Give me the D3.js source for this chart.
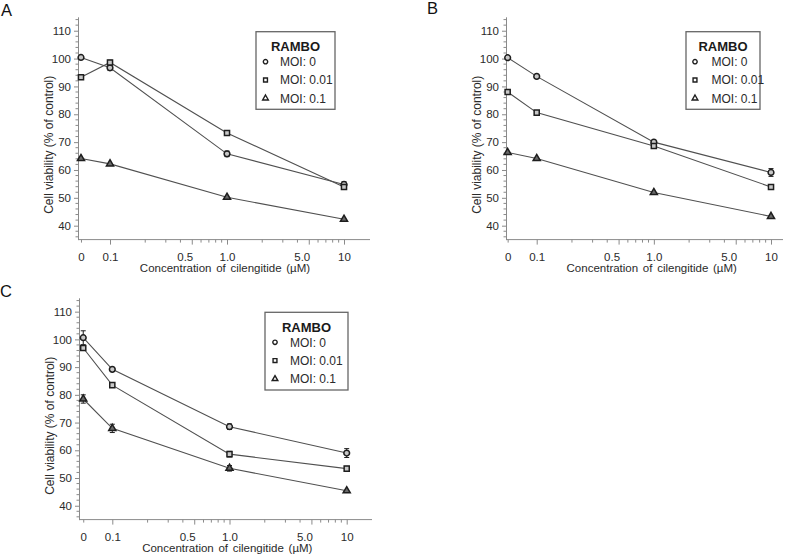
<!DOCTYPE html>
<html>
<head>
<meta charset="utf-8">
<script src="https://cdn.jsdelivr.net/npm/d3@7"></script>
<style>
  html, body { margin: 0; padding: 0; background: #fff; }
  svg { display: block; font-family: "Liberation Sans", Arial, sans-serif; }
</style>
</head>
<body>
<svg id="chart" width="800" height="560"></svg>
<script>
// ---------------- DATA ----------------
const concentrations = [0, 0.1, 1, 10];           // µM (0 drawn at the axis break)
const seriesNames = ["MOI: 0", "MOI: 0.01", "MOI: 0.1"];
const legendTitle = "RAMBO";
const xTickValues = [0, 0.1, 0.5, 1, 5, 10];
const xTickLabels = ["0", "0.1", "0.5", "1.0", "5.0", "10"];
const xMinorTicks = [0.2, 0.3, 0.4, 0.6, 0.7, 0.8, 0.9, 2, 3, 4, 6, 7, 8, 9];
const yTickValues = [40, 50, 60, 70, 80, 90, 100, 110];
const xTitle = "Concentration of cilengitide (µM)";
const yTitle = "Cell viability (% of control)";

// Panel A
const panelA_MOI0   = [100.4, 96.7, 65.8, 54.8];
const panelA_MOI001 = [93.3, 98.6, 73.3, 53.9];
const panelA_MOI01  = [64.1, 62.2, 50.2, 42.3];
const panelA_err0   = [0.5, 1.0, 1.0, 1.0];
const panelA_err001 = [0.5, 0.8, 0.6, 0.6];
const panelA_err01  = [0.4, 0.4, 0.6, 0.4];
// Panel B
const panelB_MOI0   = [100.3, 93.6, 70.0, 59.1];
const panelB_MOI001 = [88.0, 80.6, 68.6, 53.9];
const panelB_MOI01  = [66.3, 64.1, 51.9, 43.3];
const panelB_err0   = [0.5, 0.6, 0.6, 1.4];
const panelB_err001 = [0.8, 0.6, 0.6, 0.6];
const panelB_err01  = [0.4, 0.4, 0.4, 0.4];
// Panel C
const panelC_MOI0   = [100.6, 89.2, 68.5, 59.0];
const panelC_MOI001 = [96.9, 83.5, 58.6, 53.4];
const panelC_MOI01  = [78.5, 67.9, 53.5, 45.4];
const panelC_err0   = [2.5, 0.6, 1.0, 1.6];
const panelC_err001 = [0.6, 0.8, 1.0, 0.8];
const panelC_err01  = [1.5, 1.5, 1.0, 0.4];

// ---------------- LAYOUT ----------------
const ZERO_PROXY = Math.pow(10, -1.248);   // where "0" sits on the log axis
const panels = [
  { letter: "A", lx: 1, ly: 16, values: [panelA_MOI0, panelA_MOI001, panelA_MOI01],
    errors: [panelA_err0, panelA_err001, panelA_err01],
    x01: 110, x10: 344, axisL: 78, axisR: 370, yTop: 16.8, yBot: 239.6,
    legend: { x: 256, y: 31.7, w: 79, h: 77.6, sx: 9.5, tx: 24 } },
  { letter: "B", lx: 427, ly: 14, values: [panelB_MOI0, panelB_MOI001, panelB_MOI01],
    errors: [panelB_err0, panelB_err001, panelB_err01],
    x01: 536.7, x10: 771, axisL: 506, axisR: 783, yTop: 16.8, yBot: 239.6,
    legend: { x: 686, y: 31.7, w: 74, h: 77.6, sx: 9, tx: 25.5 } },
  { letter: "C", lx: 0, ly: 297, values: [panelC_MOI0, panelC_MOI001, panelC_MOI01],
    errors: [panelC_err0, panelC_err001, panelC_err01],
    x01: 112.3, x10: 346.7, axisL: 79, axisR: 372, yTop: 297.8, yBot: 519.6,
    legend: { x: 265, y: 312.3, w: 83, h: 77.7, sx: 10, tx: 25 } }
];

const svg = d3.select("#chart");
const axisColor = "#8a8a8a";
const textColor = "#2a2a2a";
const lineColor = "#505050";
const markColor = "#1e1e1e";

const symbols = [d3.symbolCircle, d3.symbolSquare, d3.symbolTriangle];
const symSizes = [26, 26, 22];
const legSizes = [15, 15, 14];
const symFills = ["#c8c8c8", "#c8c8c8", "#6a6a6a"];

panels.forEach(p => {
  const g = svg.append("g");
  const xs = d3.scaleLog().domain([0.1, 10]).range([p.x01, p.x10]);
  const xpos = v => xs(v === 0 ? ZERO_PROXY : v);
  const ys = d3.scaleLinear().domain([35, 115]).range([p.yBot, p.yTop]);

  // panel letter
  g.append("text").attr("x", p.lx).attr("y", p.ly).text(p.letter)
    .attr("font-size", 16.5).attr("fill", "#111");

  // y axis
  const yAxis = d3.axisLeft(ys).tickValues(yTickValues).tickSize(4).tickPadding(3).tickSizeOuter(0);
  const yg = g.append("g").attr("transform", `translate(${p.axisL},0)`).call(yAxis);
  yg.select(".domain").attr("stroke", axisColor);
  yg.selectAll(".tick line").attr("stroke", axisColor);
  yg.selectAll(".tick text").attr("fill", textColor).attr("font-size", 11.5)
    .attr("font-family", "Liberation Sans, Arial, sans-serif");
  const yMinor = d3.range(36, 115, 2).filter(v => v % 10 !== 0);
  yg.selectAll(".minor").data(yMinor).enter().append("line")
    .attr("x1", 0).attr("x2", -2.5)
    .attr("y1", d => ys(d)).attr("y2", d => ys(d))
    .attr("stroke", axisColor);

  // x axis
  const xAxis = d3.axisBottom(xs)
    .tickValues(xTickValues.map(v => v === 0 ? ZERO_PROXY : v))
    .tickFormat((d, i) => xTickLabels[i])
    .tickSize(5).tickPadding(8).tickSizeOuter(0);
  const xg = g.append("g").attr("transform", `translate(0,${p.yBot})`).call(xAxis);
  xg.select(".domain").remove();
  xg.append("line").attr("x1", p.axisL).attr("x2", p.axisR).attr("y1", 0).attr("y2", 0)
    .attr("stroke", axisColor);
  xg.selectAll(".tick line").attr("stroke", axisColor)
    .attr("y2", (d, i) => xTickValues[i] === 0 ? 3 : 5);
  xg.selectAll(".tick text").attr("fill", textColor).attr("font-size", 11.5)
    .attr("font-family", "Liberation Sans, Arial, sans-serif")
    .attr("dx", (d, i) => (xTickValues[i] === 0.5 || xTickValues[i] === 5) ? -7 : 0);
  xg.selectAll(".minorx").data(xMinorTicks).enter().append("line")
    .attr("x1", d => xs(d)).attr("x2", d => xs(d))
    .attr("y1", 0).attr("y2", 3)
    .attr("stroke", axisColor);

  // axis titles
  g.append("text").attr("x", p.x01 + 115).attr("y", p.yBot + 32.5)
    .attr("text-anchor", "middle").attr("font-size", 11.5).attr("fill", textColor)
    .attr("word-spacing", 1.5).text(xTitle);
  g.append("text")
    .attr("transform", `translate(${p.axisL - 25},${p.yTop + 128}) rotate(-90)`)
    .attr("text-anchor", "middle").attr("font-size", 12).attr("fill", textColor)
    .text(yTitle);

  // series
  const line = d3.line().x((d, i) => xpos(concentrations[i])).y(d => ys(d));
  p.values.forEach((vals, si) => {
    g.append("path").datum(vals).attr("d", line)
      .attr("fill", "none").attr("stroke", lineColor).attr("stroke-width", 1.1);
  });
  p.values.forEach((vals, si) => {
    const errs = p.errors[si];
    vals.forEach((v, i) => {
      const cx = xpos(concentrations[i]);
      const e = errs[i];
      if (e > 0.7) {
        g.append("line").attr("x1", cx).attr("x2", cx)
          .attr("y1", ys(v - e)).attr("y2", ys(v + e)).attr("stroke", markColor).attr("stroke-width", 1);
        [v - e, v + e].forEach(yy => g.append("line")
          .attr("x1", cx - 2.5).attr("x2", cx + 2.5).attr("y1", ys(yy)).attr("y2", ys(yy))
          .attr("stroke", markColor).attr("stroke-width", 1));
      }
    });
    g.selectAll(null).data(vals).enter().append("path")
      .attr("d", d3.symbol().type(symbols[si]).size(symSizes[si]))
      .attr("transform", (d, i) => `translate(${xpos(concentrations[i])},${ys(d)})`)
      .attr("fill", symFills[si])
      .attr("stroke", markColor).attr("stroke-width", 1.5);
  });

  // legend
  const L = p.legend;
  const lg = g.append("g").attr("transform", `translate(${L.x},${L.y})`);
  lg.append("rect").attr("width", L.w).attr("height", L.h)
    .attr("fill", "#fff").attr("stroke", "#666").attr("stroke-width", 1.3);
  lg.append("text").attr("x", L.w / 2).attr("y", 19.5).attr("text-anchor", "middle")
    .attr("font-size", 13).attr("font-weight", "bold").attr("fill", "#1a1a1a").text(legendTitle);
  seriesNames.forEach((name, si) => {
    const cy = 30 + si * 18.3;
    lg.append("path").attr("d", d3.symbol().type(symbols[si]).size(legSizes[si]))
      .attr("transform", `translate(${L.sx},${cy})`)
      .attr("fill", "#fff")
      .attr("stroke", markColor).attr("stroke-width", 1.4);
    lg.append("text").attr("x", L.tx).attr("y", cy + 4.3)
      .attr("font-size", 12).attr("fill", textColor).text(name);
  });
});
</script>
</body>
</html>
